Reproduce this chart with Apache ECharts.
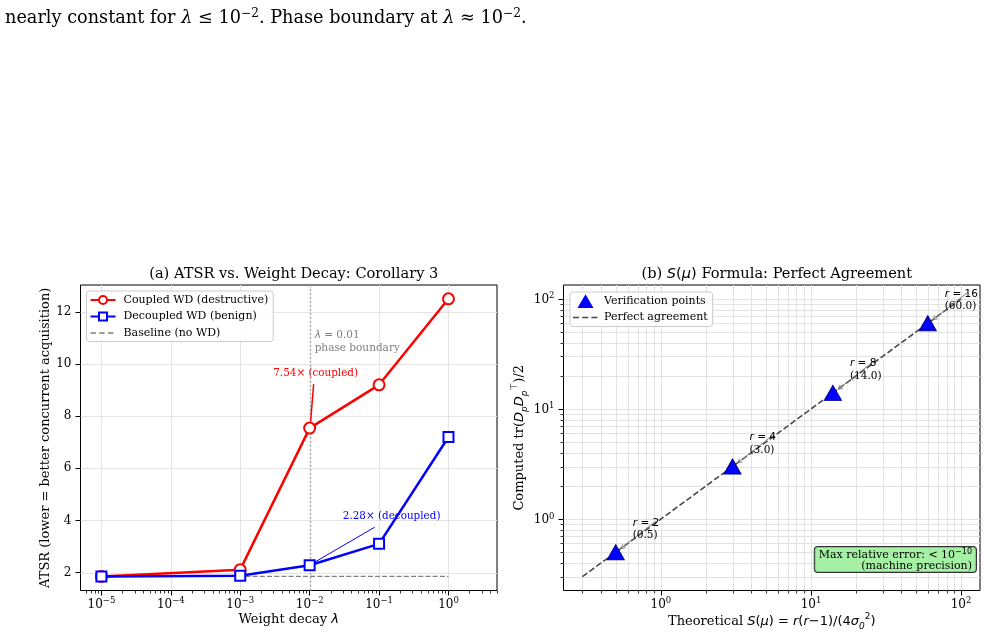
<!DOCTYPE html>
<html><head><meta charset="utf-8">
<script src="https://cdn.jsdelivr.net/npm/echarts@6/dist/echarts.min.js"></script>
<style>html,body{margin:0;padding:0;background:#fff}#c{width:987px;height:637px}</style>
</head><body><div id="c"></div>
<script>
// ---------- data ----------
const lambdas = [1e-5, 1e-3, 1e-2, 1e-1, 1e0];
const coupledATSR = [1.85, 2.11, 7.54, 9.2, 12.5];
const decoupledATSR = [1.85, 1.88, 2.28, 3.1, 7.2];
const baselineRange = [1e-5, 1e0];
const baselineATSR = 1.85;
const phaseBoundary = 1e-2;
const xTicksA = [1e-5, 1e-4, 1e-3, 1e-2, 1e-1, 1e0];
const yTicksA = [2, 4, 6, 8, 10, 12];
const rValues = [2, 4, 8, 16];
const theoreticalS = [0.5, 3.0, 14.0, 60.0];
const computedS = [0.5, 3.0, 14.0, 60.0];
const agreementRange = [0.3, 100];
const ticksB = [1, 10, 100];

// ---------- helpers ----------
const SERIF = 'DejaVu Serif', SANS = 'DejaVu Sans';
const RED = '#ff0000', BLUE = '#0000ff', GRAY = '#808080', DARK = '#4a4a4a';
const rs = (fs, fam, ital, pb, color) => ({fontSize: fs, fontFamily: fam, fontStyle: ital ? 'italic' : 'normal',
  verticalAlign: 'bottom', padding: [0, 0, pb, 0], color: color || '#000'});
function minorVals(lo, hi) {
  const out = [];
  for (let e = Math.floor(Math.log10(lo)); e <= Math.ceil(Math.log10(hi)); e++)
    for (let m = 2; m <= 9; m++) { const v = m * Math.pow(10, e); if (v >= lo && v <= hi) out.push(v); }
  return out;
}
function powFmt(v) { const e = Math.round(Math.log10(v)); return '{b|10}{s|' + (e < 0 ? '\u2212' : '') + Math.abs(e) + '}'; }
const powRich = {b: rs(12, SERIF, false, 0), s: rs(8.5, SERIF, false, 5.5)};

const xA = [5e-6, 5], yA = [1.31, 13.03];
const lb = -0.649, ub = 2.1261;
const xB = [Math.pow(10, lb), Math.pow(10, ub)], yB = xB;

function vLines(xi, yi, vals, yRef, color, w, z, dash) {
  return {type: 'custom', xAxisIndex: xi, yAxisIndex: yi, silent: true, z: z, data: vals.map(v => [v, yRef]),
    renderItem: (p, api) => { const cs = p.coordSys; const x = Math.round(api.coord([api.value(0), api.value(1)])[0]) + 0.5;
      return {type: 'line', shape: {x1: x, y1: cs.y, x2: x, y2: cs.y + cs.height}, style: {stroke: color, lineWidth: w, lineDash: dash || null}}; }};
}
function hLines(xi, yi, vals, xRef, color, w, z) {
  return {type: 'custom', xAxisIndex: xi, yAxisIndex: yi, silent: true, z: z, data: vals.map(v => [xRef, v]),
    renderItem: (p, api) => { const cs = p.coordSys; const y = Math.round(api.coord([api.value(0), api.value(1)])[1]) + 0.5;
      return {type: 'line', shape: {x1: cs.x, y1: y, x2: cs.x + cs.width, y2: y}, style: {stroke: color, lineWidth: w}}; }};
}
function xMinorTicks(xi, yi, vals, yRef) {
  return {type: 'custom', xAxisIndex: xi, yAxisIndex: yi, silent: true, z: 5, data: vals.map(v => [v, yRef]),
    renderItem: (p, api) => { const cs = p.coordSys; const x = Math.round(api.coord([api.value(0), api.value(1)])[0]) + 0.5;
      const b = cs.y + cs.height; return {type: 'line', shape: {x1: x, y1: b, x2: x, y2: b + 3}, style: {stroke: '#000', lineWidth: 0.8}}; }};
}
function yMinorTicks(xi, yi, vals, xRef) {
  return {type: 'custom', xAxisIndex: xi, yAxisIndex: yi, silent: true, z: 5, data: vals.map(v => [xRef, v]),
    renderItem: (p, api) => { const cs = p.coordSys; const y = Math.round(api.coord([api.value(0), api.value(1)])[1]) + 0.5;
      return {type: 'line', shape: {x1: cs.x, y1: y, x2: cs.x - 3, y2: y}, style: {stroke: '#000', lineWidth: 0.8}}; }};
}
function arrowHead(ex, ey, sx, sy, L) {
  const a = Math.atan2(ey - sy, ex - sx), s = 0.45;
  return [[ex - L * Math.cos(a - s), ey - L * Math.sin(a - s)], [ex, ey], [ex - L * Math.cos(a + s), ey - L * Math.sin(a + s)]];
}
// legend icons (bounding boxes padded with tiny invisible dots so they keep their proportions)
const dashIconA = 'path://M0,0h0.01v0.01h-0.01z M25,10h-0.01v-0.01h0.01z M0,4.3h5.5v1.4h-5.5z M8.7,4.3h5.5v1.4h-5.5z M17.4,4.3h5.5v1.4h-5.5z';
const dashIconB = 'path://M0,0h0.01v0.01h-0.01z M25,14h-0.01v-0.01h0.01z M0,6.2h6v1.6h-6z M9.2,6.2h6v1.6h-6z M18.4,6.2h6v1.6h-6z';
const triIconB = 'path://M0,0h0.01v0.01h-0.01z M25,14h-0.01v-0.01h0.01z M4.5,14 L12.5,0.3 L20.5,14 Z';

const axisCommon = {axisLine: {show: false}, splitLine: {show: false}};
const NF = 13;
const nameRich = {n: rs(NF, SERIF, false, 3), i: rs(NF, SANS, true, 3), m: rs(NF, SANS, false, 3),
  sb: rs(9, SANS, true, 0), sp: rs(9, SANS, false, 10)};

const chart = echarts.init(document.getElementById('c'), null, {width: 987, height: 637});
const option = {
  animation: false,
  backgroundColor: '#fff',
  title: [
    {text: '(a) ATSR vs. Weight Decay: Corollary 3', left: 288.75, top: 262, textAlign: 'center',
      textStyle: {fontFamily: SERIF, fontSize: 14.6, fontWeight: 'normal', color: '#000'}},
    {text: '{n|(b) }{i|S}{m|(}{i|\u03bc}{m|)}{n| Formula: Perfect Agreement}', left: 771.75, top: 262, textAlign: 'center',
      textStyle: {fontFamily: SERIF, fontSize: 14.6, fontWeight: 'normal', color: '#000',
        rich: {n: rs(14.6, SERIF, false, 0), i: rs(14.6, SANS, true, 0), m: rs(14.6, SANS, false, 0)}}}
  ],
  grid: [
    {left: 80.5, top: 285, width: 416.5, height: 305.5, show: true, borderColor: '#000', borderWidth: 1, backgroundColor: 'transparent'},
    {left: 563.5, top: 285, width: 416.5, height: 305.5, show: true, borderColor: '#000', borderWidth: 1, backgroundColor: 'transparent'}
  ],
  legend: [
    {left: 86.5, top: 291, orient: 'vertical', itemWidth: 25, itemHeight: 10, itemGap: 5.5, padding: [3.5, 5, 3, 3],
      symbolKeepAspect: true,
      backgroundColor: 'rgba(255,255,255,0.85)', borderColor: '#cccccc', borderWidth: 1, borderRadius: 3,
      textStyle: {fontFamily: SERIF, fontSize: 11, color: '#000', padding: [0, 0, 0, 3]},
      data: ['Coupled WD (destructive)', 'Decoupled WD (benign)',
        {name: 'Baseline (no WD)', icon: dashIconA, itemStyle: {color: GRAY, borderWidth: 0, opacity: 1}}]},
    {left: 570, top: 292, orient: 'vertical', itemWidth: 25, itemHeight: 14, itemGap: 2.5, padding: [2, 5, 2, 3],
      symbolKeepAspect: true,
      backgroundColor: 'rgba(255,255,255,0.85)', borderColor: '#cccccc', borderWidth: 1, borderRadius: 3,
      textStyle: {fontFamily: SERIF, fontSize: 11, color: '#000', padding: [0, 0, 0, 1]},
      data: [{name: 'Verification points', icon: triIconB, itemStyle: {color: BLUE, borderWidth: 0, borderColor: 'transparent', opacity: 1}},
        {name: 'Perfect agreement', icon: dashIconB, itemStyle: {color: DARK, borderWidth: 0, opacity: 1}}]}
  ],
  xAxis: [
    Object.assign({}, axisCommon, {type: 'log', logBase: 10, gridIndex: 0, min: xA[0], max: xA[1],
      axisTick: {show: true, length: 5, customValues: xTicksA, lineStyle: {color: '#000', width: 1}},
      axisLabel: {customValues: xTicksA, formatter: powFmt, rich: powRich, margin: 6, color: '#000'},
      name: '{n|Weight decay }{i|\u03bb}', nameLocation: 'middle', nameGap: 23,
      nameTextStyle: {fontFamily: SERIF, fontSize: NF, color: '#000', rich: nameRich}}),
    Object.assign({}, axisCommon, {type: 'log', logBase: 10, gridIndex: 1, min: xB[0], max: xB[1],
      axisTick: {show: true, length: 5, customValues: ticksB, lineStyle: {color: '#000', width: 1}},
      axisLabel: {customValues: ticksB, formatter: powFmt, rich: powRich, margin: 6, color: '#000'},
      name: '{n|Theoretical }{i|S}{m|(}{i|\u03bc}{m|) = }{i|r}{m|(}{i|r}{m|\u22121)/(4}{i|\u03c3}{sb|0}{sp|2}{m|)}',
      nameLocation: 'middle', nameGap: 22,
      nameTextStyle: {fontFamily: SERIF, fontSize: NF, color: '#000', rich: nameRich}})
  ],
  yAxis: [
    Object.assign({}, axisCommon, {type: 'value', gridIndex: 0, min: yA[0], max: yA[1],
      axisTick: {show: true, length: 5, customValues: yTicksA, lineStyle: {color: '#000', width: 1}},
      axisLabel: {customValues: yTicksA, margin: 9, color: '#000', fontFamily: SERIF, fontSize: 12},
      name: 'ATSR (lower = better concurrent acquisition)', nameLocation: 'middle', nameGap: 28,
      nameTextStyle: {fontFamily: SERIF, fontSize: NF, color: '#000'}}),
    Object.assign({}, axisCommon, {type: 'log', logBase: 10, gridIndex: 1, min: yB[0], max: yB[1],
      axisTick: {show: true, length: 5, customValues: ticksB, lineStyle: {color: '#000', width: 1}},
      axisLabel: {customValues: ticksB, formatter: powFmt, rich: powRich, margin: 9, color: '#000'},
      name: '{n|Computed tr(}{i|D}{sb|p}{i|D}{sb|p}{sp|\u22a4}{n|)/2}', nameLocation: 'middle', nameGap: 34,
      nameTextStyle: {fontFamily: SERIF, fontSize: NF, color: '#000', rich: nameRich}})
  ],
  graphic: [
    {type: 'text', left: 5, top: 8, style: {
      text: '{t|nearly constant for }{m|\u03bb}{t| \u2264 10}{s|\u22122}{t|. Phase boundary at }{m|\u03bb}{t| \u2248 10}{s|\u22122}{t|.}',
      rich: {t: rs(17.7, SERIF, false, 0), m: rs(17.7, SERIF, true, 0), s: rs(12.2, SERIF, false, 7.5)}}},
    {type: 'text', right: 10, bottom: 64, z: 60, style: {
      text: '{n|Max relative error: < 10}{s|\u221210}\n{n|(machine precision)}', align: 'right',
      rich: {n: Object.assign(rs(11, SERIF, false, 0), {align: 'right'}), s: Object.assign(rs(8, SANS, false, 5), {align: 'right'})},
      backgroundColor: 'rgba(144,238,144,0.8)', borderColor: '#333', borderWidth: 1, borderRadius: 3, padding: [1, 4, 0, 4]}}
  ],
  series: [
    // grid lines (a)
    vLines(0, 0, xTicksA, 5, '#e4e4e4', 1, 0),
    hLines(0, 0, yTicksA, 1e-3, '#e4e4e4', 1, 0),
    xMinorTicks(0, 0, minorVals(xA[0], xA[1]), 5),
    // phase boundary
    vLines(0, 0, [phaseBoundary], 5, '#9a9a9a', 1.5, 1, [1.5, 2.5]),
    {type: 'custom', xAxisIndex: 0, yAxisIndex: 0, silent: true, z: 6, data: [[phaseBoundary, yA[1]]],
      renderItem: (p, api) => { const c = api.coord([api.value(0), api.value(1)]);
        return {type: 'text', x: c[0] + 5, y: c[1] + 57, style: {
          text: '{i|\u03bb}{n| = 0.01}\n{n|phase boundary}', lineHeight: 13,
          rich: {i: {fontFamily: SANS, fontStyle: 'italic', fontSize: 10.5, color: GRAY}, n: {fontFamily: SERIF, fontSize: 10.5, color: GRAY}},
          fill: GRAY, align: 'left', verticalAlign: 'middle'}}; }},
    // data (a)
    {name: 'Coupled WD (destructive)', type: 'line', xAxisIndex: 0, yAxisIndex: 0, z: 3,
      data: lambdas.map((x, i) => [x, coupledATSR[i]]), symbol: 'emptyCircle', symbolSize: 11,
      lineStyle: {color: RED, width: 2.5}, itemStyle: {color: RED, borderWidth: 2}},
    {name: 'Baseline (no WD)', type: 'line', xAxisIndex: 0, yAxisIndex: 0, z: 3,
      data: baselineRange.map(x => [x, baselineATSR]), symbol: 'none',
      lineStyle: {color: GRAY, width: 1.3, type: [5, 2.2]}, itemStyle: {color: GRAY}},
    {name: 'Decoupled WD (benign)', type: 'line', xAxisIndex: 0, yAxisIndex: 0, z: 4,
      data: lambdas.map((x, i) => [x, decoupledATSR[i]]), symbol: 'emptyRect', symbolSize: 10,
      lineStyle: {color: BLUE, width: 2.5}, itemStyle: {color: BLUE, borderWidth: 2}},
    // annotations (a)
    {type: 'custom', xAxisIndex: 0, yAxisIndex: 0, silent: true, z: 7,
      data: [[lambdas[2], coupledATSR[2], 0], [lambdas[2], decoupledATSR[2], 1]],
      renderItem: (p, api) => {
        const c = api.coord([api.value(0), api.value(1)]);
        const k = api.value(2);
        const cfg = k === 0
          ? {text: api.value(1).toFixed(2) + '\u00d7 (coupled)', color: RED, t: [6, -55], a: [4, -44], b: [1, -7], w: 1.5}
          : {text: api.value(1).toFixed(2) + '\u00d7 (decoupled)', color: BLUE, t: [82, -49], a: [65, -38], b: [5, -3], w: 1};
        return {type: 'group', children: [
          {type: 'line', shape: {x1: c[0] + cfg.a[0], y1: c[1] + cfg.a[1], x2: c[0] + cfg.b[0], y2: c[1] + cfg.b[1]}, style: {stroke: cfg.color, lineWidth: cfg.w}},
          {type: 'text', x: c[0] + cfg.t[0], y: c[1] + cfg.t[1], style: {text: cfg.text, fill: cfg.color, font: '10.4px "DejaVu Serif"', align: 'center', verticalAlign: 'middle'}}
        ]};
      }},
    // grid lines (b)
    vLines(1, 1, ticksB.concat(minorVals(xB[0], xB[1])), 1, '#e2e2e2', 1, 0),
    hLines(1, 1, ticksB.concat(minorVals(yB[0], yB[1])), 1, '#e2e2e2', 1, 0),
    xMinorTicks(1, 1, minorVals(xB[0], xB[1]), 1),
    yMinorTicks(1, 1, minorVals(yB[0], yB[1]), 1),
    // data (b)
    {name: 'Perfect agreement', type: 'line', xAxisIndex: 1, yAxisIndex: 1, z: 3,
      data: agreementRange.map(v => [v, v]), symbol: 'none',
      lineStyle: {color: DARK, width: 1.6, type: [6, 2.6]}, itemStyle: {color: DARK}},
    {name: 'Verification points', type: 'scatter', xAxisIndex: 1, yAxisIndex: 1, z: 4,
      data: theoreticalS.map((v, i) => [v, computedS[i]]), symbol: 'triangle', symbolSize: [17, 15],
      itemStyle: {color: BLUE, borderColor: '#00008b', borderWidth: 1, opacity: 1}},
    // annotations (b)
    {type: 'custom', xAxisIndex: 1, yAxisIndex: 1, silent: true, z: 7,
      data: theoreticalS.map((v, i) => [v, computedS[i], rValues[i]]),
      renderItem: (p, api) => {
        const c = api.coord([api.value(0), api.value(1)]);
        const r = api.value(2), v = api.value(0);
        const sx = c[0] + 40, sy = c[1] - 31, ex = c[0] + 5, ey = c[1] - 3.5;
        return {type: 'group', children: [
          {type: 'line', shape: {x1: sx, y1: sy, x2: ex, y2: ey}, style: {stroke: GRAY, lineWidth: 1}},
          {type: 'polyline', shape: {points: arrowHead(ex, ey, sx, sy, 5)}, style: {stroke: GRAY, lineWidth: 1, fill: null}},
          {type: 'text', x: c[0] + 17, y: c[1] - 23, style: {
            text: '{i|r}{m| = ' + r + '}\n{n|(' + v.toFixed(1) + ')}', lineHeight: 12.5,
            rich: {i: {fontFamily: SANS, fontStyle: 'italic', fontSize: 10.5, color: '#000'}, m: {fontFamily: SANS, fontSize: 10.5, color: '#000'},
              n: {fontFamily: SERIF, fontSize: 10.5, color: '#000'}},
            fill: '#000', align: 'left', verticalAlign: 'middle'}}
        ]};
      }}
  ]
};
chart.setOption(option);
</script></body></html>
